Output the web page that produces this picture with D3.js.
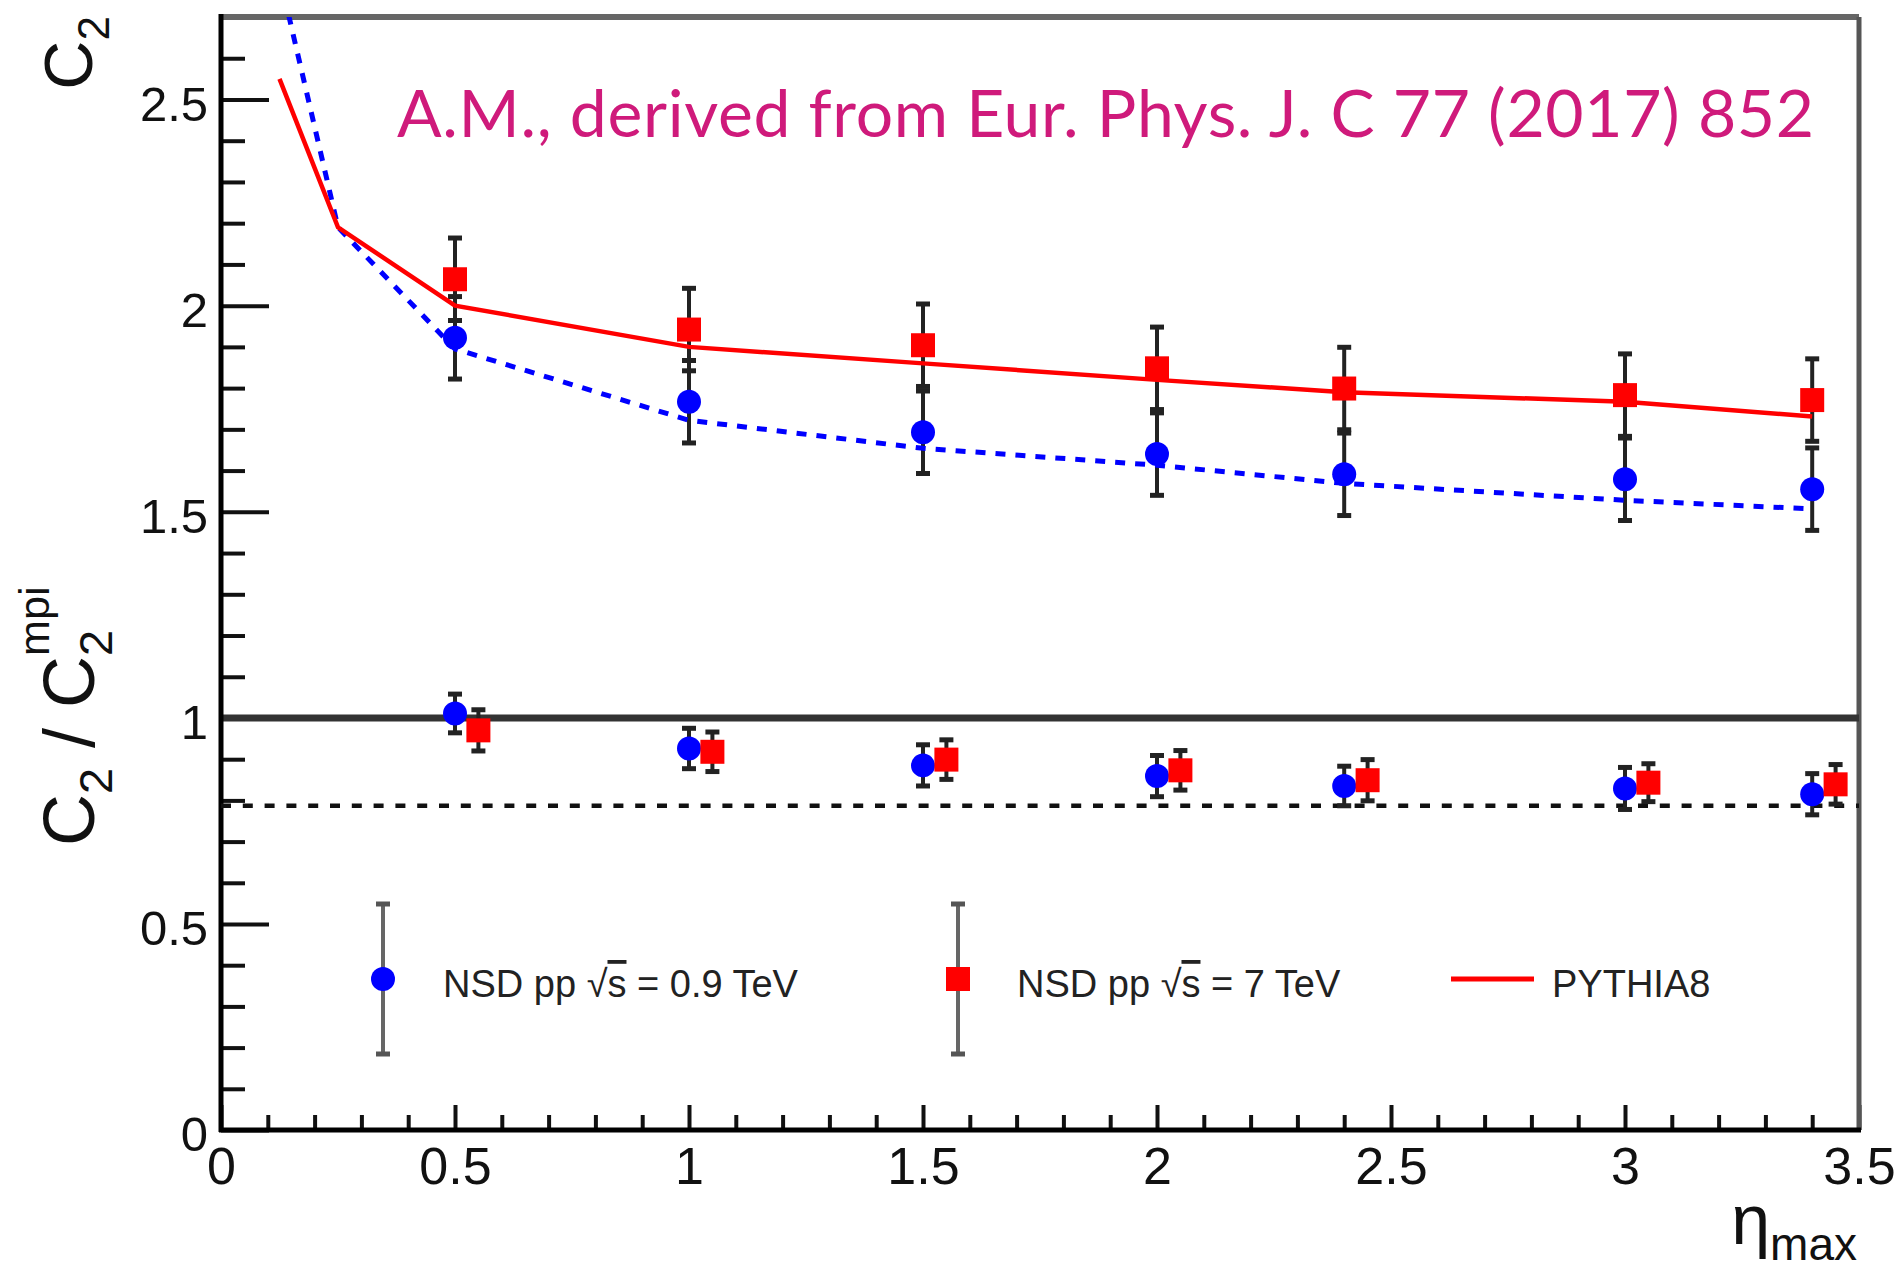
<!DOCTYPE html>
<html>
<head>
<meta charset="utf-8">
<script src="https://cdn.jsdelivr.net/npm/d3@7"></script>
<style>
  html, body { margin: 0; padding: 0; background: #fff; }
  svg { display: block; }
</style>
</head>
<body>
<svg id="chart" width="1895" height="1275"></svg>
<script>
// measured points (eta_max)
const etaData = [0.5, 1.0, 1.5, 2.0, 2.4, 3.0, 3.4];
const etaRatio7 = [0.55, 1.05, 1.55, 2.05, 2.45, 3.05, 3.45];

// C2 values, upper panel
const c2_09 = [1.922, 1.767, 1.693, 1.640, 1.591, 1.579, 1.555];
const c2_09Err = [0.1, 0.1, 0.1, 0.1, 0.1, 0.1, 0.1];
const c2_7 = [2.064, 1.942, 1.904, 1.848, 1.799, 1.783, 1.771];
const c2_7Err = [0.1, 0.1, 0.1, 0.1, 0.1, 0.1, 0.1];

// C2 / C2^mpi, lower panel
const ratio09 = [1.011, 0.926, 0.885, 0.859, 0.835, 0.829, 0.815];
const ratio09Err = [0.047, 0.049, 0.05, 0.05, 0.048, 0.051, 0.05];
const ratio7 = [0.970, 0.918, 0.899, 0.873, 0.849, 0.843, 0.839];
const ratio7Err = [0.05, 0.048, 0.048, 0.048, 0.05, 0.046, 0.048];
const ratioRef = 0.787;

// model curves
const etaModel = [0.125, 0.25, 0.5, 1.0, 1.5, 2.0, 2.4, 3.0, 3.4];
const pythia8 = [2.55, 2.19, 2.00, 1.90, 1.86, 1.82, 1.79, 1.767, 1.731];
const blueModel = [2.80, 2.19, 1.895, 1.722, 1.654, 1.613, 1.569, 1.528, 1.507];

// ticks
const xMajor = [0, 0.5, 1, 1.5, 2, 2.5, 3, 3.5];
const yUpMajor = [1.5, 2, 2.5];
const yLoMajor = [0, 0.5, 1];

const legendLabels = ["NSD pp ", "NSD pp ", "PYTHIA8"];
const legendTails = [" = 0.9 TeV", " = 7 TeV"];

const svg = d3.select("#chart");
const font = "'Liberation Sans', Arial, Helvetica, sans-serif";

const x = d3.scaleLinear().domain([0, 3.5]).range([221, 1859]);
const yUp = d3.scaleLinear().domain([1, 2.7]).range([718, 17]);
const yLo = d3.scaleLinear().domain([0, 1]).range([1130, 718]);

svg.append("defs").append("clipPath").attr("id", "clipUp")
  .append("rect")
  .attr("x", x(0)).attr("y", yUp(2.7))
  .attr("width", x(3.5) - x(0)).attr("height", yUp(1) - yUp(2.7));

// ---- axes ----
const styleAxis = (g, size) => {
  g.select(".domain").remove();
  g.attr("color", "#111");
  g.selectAll("line").attr("stroke-width", 4);
  g.selectAll("text")
    .attr("font-family", font)
    .attr("font-size", size)
    .attr("fill", "#111");
};

const minorY = (lo, hi) => d3.range(lo, hi + 1).filter(i => i % 5 !== 0).map(i => i / 10);

svg.append("g")
  .attr("transform", `translate(${x(0)},0)`)
  .call(d3.axisLeft(yUp).tickValues(yUpMajor).tickSizeInner(-48).tickSizeOuter(0)
    .tickPadding(13).tickFormat(d => String(d)))
  .call(g => styleAxis(g, 49))
  .call(g => g.selectAll("text").attr("dy", "0.36em").attr("y", 3));
svg.append("g")
  .attr("transform", `translate(${x(0)},0)`)
  .call(d3.axisLeft(yUp).tickValues(minorY(11, 27)).tickSizeInner(-24).tickSizeOuter(0).tickFormat(""))
  .call(g => styleAxis(g, 49));

svg.append("g")
  .attr("transform", `translate(${x(0)},0)`)
  .call(d3.axisLeft(yLo).tickValues(yLoMajor).tickSizeInner(-48).tickSizeOuter(0)
    .tickPadding(13).tickFormat(d => String(d)))
  .call(g => styleAxis(g, 49))
  .call(g => g.selectAll("text").attr("dy", "0.36em").attr("y", 3));
svg.append("g")
  .attr("transform", `translate(${x(0)},0)`)
  .call(d3.axisLeft(yLo).tickValues(minorY(1, 9)).tickSizeInner(-24).tickSizeOuter(0).tickFormat(""))
  .call(g => styleAxis(g, 49));

svg.append("g")
  .attr("transform", `translate(0,${yLo(0)})`)
  .call(d3.axisBottom(x).tickValues(xMajor).tickSizeInner(-25).tickSizeOuter(0)
    .tickFormat(d => String(d)))
  .call(g => styleAxis(g, 52))
  .call(g => g.selectAll("text").attr("y", 54).attr("dy", 0));
svg.append("g")
  .attr("transform", `translate(0,${yLo(0)})`)
  .call(d3.axisBottom(x).tickValues(d3.range(1, 35).filter(i => i % 5 !== 0).map(i => i / 10))
    .tickSizeInner(-15).tickSizeOuter(0).tickFormat(""))
  .call(g => styleAxis(g, 52));

// ---- frame ----
const frame = svg.append("g").attr("fill", "none");
frame.append("line")
  .attr("x1", x(0)).attr("x2", x(3.5)).attr("y1", yUp(2.7)).attr("y2", yUp(2.7))
  .attr("stroke", "#666").attr("stroke-width", 6);
frame.append("line")
  .attr("x1", x(3.5)).attr("x2", x(3.5)).attr("y1", yUp(2.7)).attr("y2", yLo(0))
  .attr("stroke", "#555").attr("stroke-width", 5);
frame.append("line")
  .attr("x1", x(0)).attr("x2", x(3.5)).attr("y1", yLo(1)).attr("y2", yLo(1))
  .attr("stroke", "#333").attr("stroke-width", 7);
frame.append("line")
  .attr("x1", x(0)).attr("x2", x(0)).attr("y1", yUp(2.7) - 3).attr("y2", yLo(0) + 2)
  .attr("stroke", "#000").attr("stroke-width", 5);
frame.append("line")
  .attr("x1", x(0) - 2).attr("x2", x(3.5) + 2).attr("y1", yLo(0)).attr("y2", yLo(0))
  .attr("stroke", "#000").attr("stroke-width", 5);

// reference dashed line in ratio panel
svg.append("line")
  .attr("x1", x(0)).attr("x2", x(3.5)).attr("y1", yLo(ratioRef)).attr("y2", yLo(ratioRef))
  .attr("stroke", "#111").attr("stroke-width", 4.5).attr("stroke-dasharray", "10 11.8");

// ---- error bars ----
const drawErrors = (xs, ys, errs, yScale, color) => {
  const g = svg.append("g").attr("stroke", color).attr("stroke-width", 4);
  xs.forEach((xv, i) => {
    const top = yScale(ys[i] + errs[i]);
    const bot = yScale(ys[i] - errs[i]);
    g.append("line").attr("x1", x(xv)).attr("x2", x(xv)).attr("y1", top).attr("y2", bot);
    [top, bot].forEach(yy => {
      g.append("line").attr("x1", x(xv) - 7).attr("x2", x(xv) + 7)
        .attr("y1", yy).attr("y2", yy).attr("stroke-width", 5);
    });
  });
};

drawErrors(etaData, c2_09, c2_09Err, yUp, "#222");
drawErrors(etaData, c2_7, c2_7Err, yUp, "#222");
drawErrors(etaData, ratio09, ratio09Err, yLo, "#222");
drawErrors(etaRatio7, ratio7, ratio7Err, yLo, "#222");

// ---- model curves ----
const modelLine = d3.line().x((d, i) => x(etaModel[i])).y(d => yUp(d));
svg.append("path")
  .datum(blueModel)
  .attr("clip-path", "url(#clipUp)")
  .attr("d", modelLine)
  .attr("fill", "none").attr("stroke", "#0000ff")
  .attr("stroke-width", 5).attr("stroke-dasharray", "10 10");
svg.append("path")
  .datum(pythia8)
  .attr("clip-path", "url(#clipUp)")
  .attr("d", modelLine)
  .attr("fill", "none").attr("stroke", "#ff0000").attr("stroke-width", 4.5);

// ---- markers ----
const circles = (xs, ys, yScale) => svg.append("g").selectAll("circle")
  .data(ys).enter().append("circle")
  .attr("cx", (d, i) => x(xs[i])).attr("cy", d => yScale(d))
  .attr("r", 12).attr("fill", "#0000ff");
const squares = (xs, ys, yScale) => svg.append("g").selectAll("rect")
  .data(ys).enter().append("rect")
  .attr("x", (d, i) => x(xs[i]) - 12).attr("y", d => yScale(d) - 12)
  .attr("width", 24).attr("height", 24).attr("fill", "#ff0000");

circles(etaData, c2_09, yUp);
squares(etaData, c2_7, yUp);
circles(etaData, ratio09, yLo);
squares(etaRatio7, ratio7, yLo);

// ---- legend ----
const legend = svg.append("g").attr("font-family", font).attr("font-size", 38).attr("fill", "#222");
const legY = 979;
[383, 958].forEach((lx, i) => {
  legend.append("line").attr("x1", lx).attr("x2", lx).attr("y1", 904).attr("y2", 1054)
    .attr("stroke", "#666").attr("stroke-width", 4);
  [904, 1054].forEach(yy => legend.append("line")
    .attr("x1", lx - 7).attr("x2", lx + 7).attr("y1", yy).attr("y2", yy)
    .attr("stroke", "#555").attr("stroke-width", 5));
  if (i === 0) {
    legend.append("circle").attr("cx", lx).attr("cy", legY).attr("r", 12).attr("fill", "#0000ff");
  } else {
    legend.append("rect").attr("x", lx - 12).attr("y", legY - 12)
      .attr("width", 24).attr("height", 24).attr("fill", "#ff0000");
  }
  const t = legend.append("text").attr("x", [443, 1017][i]).attr("y", 997);
  t.append("tspan").text(legendLabels[i]);
  t.append("tspan").text("\u221A");
  t.append("tspan").text("s").style("text-decoration", "overline");
  t.append("tspan").text(legendTails[i]);
});
legend.append("line").attr("x1", 1451).attr("x2", 1534).attr("y1", legY).attr("y2", legY)
  .attr("stroke", "#ff0000").attr("stroke-width", 5);
legend.append("text").attr("x", 1552).attr("y", 997).text(legendLabels[2]);

// ---- titles ----
const titleSize = 68;
svg.append("text")
  .attr("transform", "translate(92,16) rotate(-90)")
  .attr("text-anchor", "end")
  .attr("font-family", font).attr("font-size", titleSize).attr("fill", "#111")
  .call(t => {
    t.append("tspan").text("C");
    t.append("tspan").attr("font-size", titleSize * 0.65).attr("dy", titleSize * 0.25).text("2");
  });

const loSize = 72;
const loTitle = svg.append("g").attr("transform", "translate(94,846) rotate(-90)")
  .attr("font-family", font).attr("fill", "#111");
const lt = loTitle.append("text").attr("font-size", loSize);
lt.append("tspan").text("C");
lt.append("tspan").attr("font-size", loSize * 0.65).attr("dy", loSize * 0.25).text("2");
lt.append("tspan").attr("dy", -loSize * 0.25).text(" / C");
const lastSub = lt.append("tspan").attr("font-size", loSize * 0.65).attr("dy", loSize * 0.25).text("2");
const subStart = lt.node().getComputedTextLength() - lastSub.node().getComputedTextLength();
loTitle.append("text")
  .attr("x", subStart).attr("y", -loSize * 0.62)
  .attr("font-size", loSize * 0.6).text("mpi");

svg.append("text")
  .attr("x", 1857).attr("y", 1244)
  .attr("text-anchor", "end")
  .attr("font-family", font).attr("fill", "#111")
  .call(t => {
    t.append("tspan").attr("font-size", 70).text("\u03B7");
    t.append("tspan").attr("font-size", 46).attr("dy", 16).text("max");
  });

// ---- annotation ----
svg.append("text")
  .attr("x", 397).attr("y", 137)
  .attr("font-family", "Lato, 'Open Sans', sans-serif")
  .attr("font-size", 66)
  .attr("font-weight", 400)
  .attr("fill", "#cf1a7b")
  .attr("textLength", 1417).attr("lengthAdjust", "spacing")
  .text("A.M., derived from Eur. Phys. J. C 77 (2017) 852");
</script>
</body>
</html>
